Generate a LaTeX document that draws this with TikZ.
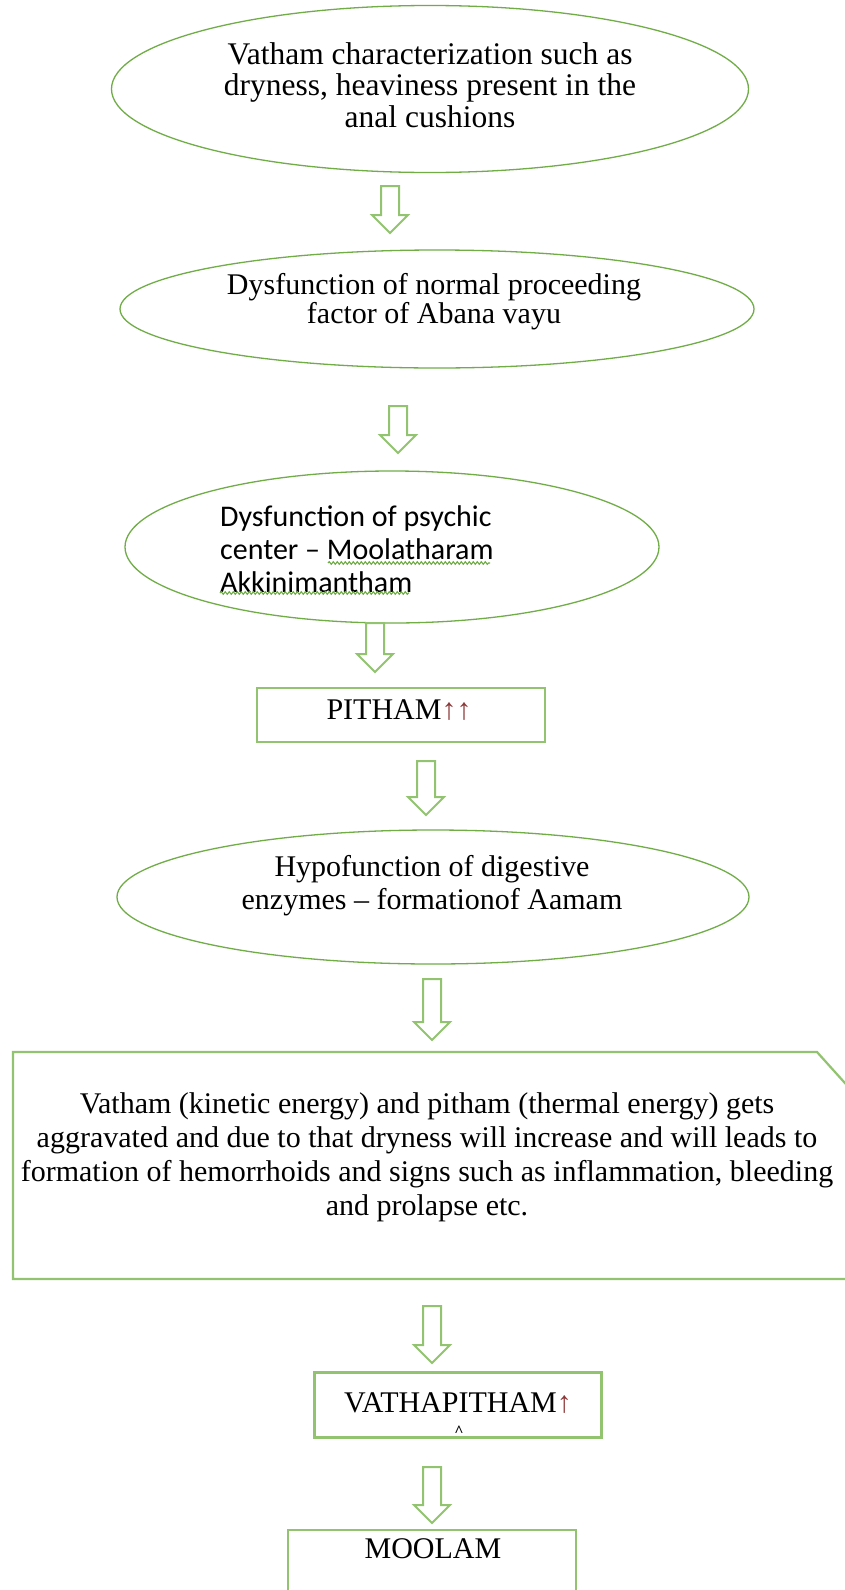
\documentclass[tikz,border=0pt]{standalone}
\usepackage{fontspec}
\setmainfont{Liberation Serif}
\newfontfamily\calibrifont{Carlito}
\usetikzlibrary{calc,shapes.geometric,decorations.pathmorphing}
\definecolor{ellgreen}{RGB}{112,173,71}
\definecolor{boxgreen}{RGB}{146,196,112}
\definecolor{arrred}{RGB}{140,55,55}
\newcommand\blockarrow[2]{%
  \draw[blockarr] let \p1=(#1), \p2=(#2) in
    (\x1-9pt,\y1) -- (\x1+9pt,\y1) -- (\x1+9pt,\y2+18pt) -- (\x1+18pt,\y2+18pt)
    -- (\x1,\y2) -- (\x1-18pt,\y2+18pt) -- (\x1-9pt,\y2+18pt) -- cycle;}
\newcommand\upar{{\color{arrred}↑}}
\begin{document}
\begin{tikzpicture}[x=1pt,y=-1pt,
  ell/.style={draw=ellgreen, line width=1.3pt, ellipse, inner sep=0pt},
  boxnode/.style={draw=boxgreen, line width=2.2pt, rectangle, inner sep=0pt},
  boxline/.style={draw=boxgreen, line width=2.2pt},
  blockarr/.style={draw=boxgreen, line width=2pt, fill=white, line join=miter},
  txt/.style={inner sep=0pt, align=center, font=\fontsize{30}{33}\selectfont},
  squig/.style={draw=ellgreen, line width=1.1pt, decorate,
    decoration={snake, segment length=4pt, amplitude=1.3pt}}]
\useasboundingbox (0,0) rectangle (845,1590);
\clip (0,0) rectangle (845,1590);
\fill[white] (0,0) rectangle (845,1590);

% ellipse 1
\node[ell, minimum width=637pt, minimum height=167pt] (e1) at (430,89) {};
\node[txt, font=\fontsize{31.5}{31.5}\selectfont] (t1) at (430,85) {Vatham characterization such as\\dryness, heaviness present in the\\anal cushions};

% ellipse 2
\node[ell, minimum width=634pt, minimum height=118pt] (e2) at (437,309) {};
\node[txt, font=\fontsize{30}{29}\selectfont] (t2) at (434,302) {Dysfunction of normal proceeding\\factor of Abana vayu};

% ellipse 3
\node[ell, minimum width=534pt, minimum height=152pt] (e3) at (392,547) {};
\node[txt, align=left, anchor=west, font=\calibrifont\fontsize{30}{33}\selectfont] (t3) at (220,549)
  {Dysfunction of psychic\\center – Moolatharam\\Akkinimantham};
\draw[squig] (328,563) -- (490,563);
\draw[squig] (220,593) -- (409,593);

% PITHAM box
\node[boxnode, minimum width=288pt, minimum height=54pt] (b1) at (401,715) {};
\node[txt] (tb1) at (399,710) {PITHAM\upar\upar};

% ellipse 4
\node[ell, minimum width=632pt, minimum height=134pt] (e4) at (433,897) {};
\node[txt] (t4) at (432,886) {Hypofunction of digestive\\enzymes – formationof Aamam};

% big box
\node[txt, font=\fontsize{30}{34}\selectfont] (t5) at (427,1157)
  {Vatham (kinetic energy) and pitham (thermal energy) gets\\
   aggravated and due to that dryness will increase and will leads to\\
   formation of hemorrhoids and signs such as inflammation, bleeding\\
   and prolapse etc.};
\draw[boxline] (13,1052) -- (817,1052) -- (880,1122) -- (880,1279) -- (13,1279) -- cycle;

% VATHAPITHAM box
\node[boxnode, minimum width=287pt, minimum height=65pt] (b2) at (458,1405) {};
\node[txt] (tb2) at (458,1403) {VATHAPITHAM\upar};
\node[inner sep=0pt, font=\bfseries\fontsize{16}{16}\selectfont] (mk) at (459,1431) {\textasciicircum};

% MOOLAM box
\node[boxnode, minimum width=288pt, minimum height=90pt, anchor=north] (b3) at (432,1529) {};
\node[txt] (tb3) at (433,1549) {MOOLAM};

% arrows
\coordinate (a1s) at (390,186);  \coordinate (a1e) at (390,233);
\coordinate (a2s) at (398,406);  \coordinate (a2e) at (398,453);
\coordinate (a3s) at (375,623);  \coordinate (a3e) at (375,672);
\coordinate (a4s) at (426,761);  \coordinate (a4e) at (426,815);
\coordinate (a5s) at (432,979);  \coordinate (a5e) at (432,1040);
\coordinate (a6s) at (432,1306); \coordinate (a6e) at (432,1363);
\coordinate (a7s) at (432,1467); \coordinate (a7e) at (432,1523);
\blockarrow{a1s}{a1e}
\blockarrow{a2s}{a2e}
\blockarrow{a3s}{a3e}
\blockarrow{a4s}{a4e}
\blockarrow{a5s}{a5e}
\blockarrow{a6s}{a6e}
\blockarrow{a7s}{a7e}
\end{tikzpicture}
\end{document}
